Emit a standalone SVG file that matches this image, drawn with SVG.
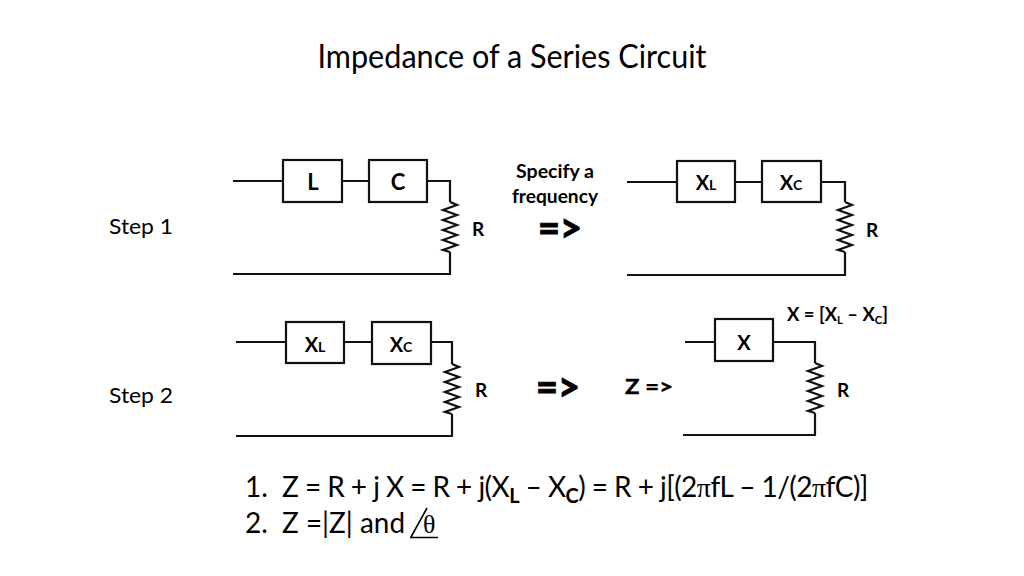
<svg xmlns="http://www.w3.org/2000/svg" width="1024" height="576" viewBox="0 0 1024 576">
<defs>
<style>
.w{fill:none;stroke:#111;stroke-width:2.2;stroke-linejoin:miter}
.box{fill:#fff;stroke:#111;stroke-width:2.2}
.t{font-family:Lato,"Open Sans","Liberation Sans",sans-serif;fill:#000}
.b{font-weight:bold}
.arr{stroke:#000;stroke-width:1;font-weight:bold}
.sym{font-family:"Liberation Serif","DejaVu Serif",serif}
</style>
<path id="res" d="M0,0 L7,3 L-7,8 L7,13 L-7,18 L7,23 L-7,28 L7,33 L-7,38 L7,43 L-7,48 L0,50" class="w"/>
</defs>
<rect width="1024" height="576" fill="#fff"/>

<text id="title" class="t" x="512" y="68" font-size="32" text-anchor="middle" textLength="389" lengthAdjust="spacingAndGlyphs">Impedance of a Series Circuit</text>

<g id="connectors">
<!-- circuit 1 -->
<path class="w" d="M233,181 H283 M342,181 H369 M427,181 H450 V202 M450,252 V274 H233"/>
<use href="#res" x="450" y="202"/>
<!-- circuit 2 -->
<path class="w" d="M627,182 H677 M735,182 H762 M821,182 H845 V202 M845,252 V275 H627"/>
<use href="#res" x="845" y="202"/>
<!-- circuit 3 -->
<path class="w" d="M236,342 H286 M344,342 H372 M431,342 H452 V364 M452,414 V436 H236"/>
<use href="#res" x="452" y="364"/>
<!-- circuit 4 -->
<path class="w" d="M685,342 H715 M773,342 H815 V363 M815,413 V435 H683"/>
<use href="#res" x="815" y="363"/>
</g>

<g id="step1-label"><text class="t" x="109" y="234" font-size="22" textLength="64" lengthAdjust="spacingAndGlyphs">Step 1</text></g>
<g id="step2-label"><text class="t" x="109" y="403" font-size="22" textLength="64" lengthAdjust="spacingAndGlyphs">Step 2</text></g>

<g id="node-L"><rect class="box" x="283" y="160" width="59" height="42"/><text class="t b" x="313" y="190" font-size="22" text-anchor="middle">L</text></g>
<g id="node-C"><rect class="box" x="369" y="160" width="58" height="42"/><text class="t b" x="398" y="190" font-size="22" text-anchor="middle">C</text></g>
<g id="node-R1"><text class="t b" x="472" y="236" font-size="19">R</text></g>

<g id="arrow1">
<text class="t b" x="555" y="178" font-size="19" text-anchor="middle" textLength="78" lengthAdjust="spacingAndGlyphs">Specify a</text>
<text class="t b" x="555" y="203" font-size="19" text-anchor="middle" textLength="86" lengthAdjust="spacingAndGlyphs">frequency</text>
<text class="t arr" x="560" y="242" font-size="40" text-anchor="middle" textLength="44" lengthAdjust="spacingAndGlyphs">=&gt;</text>
</g>

<g id="node-XL1"><rect class="box" x="677" y="161" width="58" height="41"/><text class="t b" x="706" y="190" text-anchor="middle"><tspan font-size="20">X</tspan><tspan font-size="14">L</tspan></text></g>
<g id="node-XC1"><rect class="box" x="762" y="161" width="59" height="41"/><text class="t b" x="791" y="190" text-anchor="middle"><tspan font-size="20">X</tspan><tspan font-size="14">C</tspan></text></g>
<g id="node-R2"><text class="t b" x="866" y="237" font-size="19">R</text></g>

<g id="node-XL2"><rect class="box" x="286" y="322" width="58" height="41"/><text class="t b" x="315" y="352" text-anchor="middle"><tspan font-size="20">X</tspan><tspan font-size="14">L</tspan></text></g>
<g id="node-XC2"><rect class="box" x="372" y="322" width="59" height="42"/><text class="t b" x="401" y="352" text-anchor="middle"><tspan font-size="20">X</tspan><tspan font-size="14">C</tspan></text></g>
<g id="node-R3"><text class="t b" x="475" y="397" font-size="19">R</text></g>

<g id="arrow2"><text class="t arr" x="558" y="401" font-size="40" text-anchor="middle" textLength="44" lengthAdjust="spacingAndGlyphs">=&gt;</text></g>

<g id="node-Z"><text class="t b" x="625" y="394" font-size="21" textLength="48" lengthAdjust="spacingAndGlyphs" stroke="#000" stroke-width="0.4">Z =&gt;</text></g>
<g id="node-X"><rect class="box" x="715" y="319" width="58" height="42"/><text class="t b" x="744" y="350" font-size="20" text-anchor="middle">X</text></g>
<g id="node-R4"><text class="t b" x="837" y="397" font-size="19">R</text></g>
<g id="x-def"><text class="t b" x="787" y="321" font-size="18" textLength="101" lengthAdjust="spacingAndGlyphs">X = [X<tspan font-size="11" dy="3">L</tspan><tspan dy="-3"> – X</tspan><tspan font-size="11" dy="3">C</tspan><tspan dy="-3">]</tspan></text></g>

<g id="equations">
<text class="t" x="245" y="497" font-size="28">1.</text>
<text class="t" x="282" y="497" font-size="28" letter-spacing="-0.55">Z = R + j X = R + j(X<tspan class="b" font-size="20" dy="6">L</tspan><tspan dy="-6"> – X</tspan><tspan class="b" font-size="20" dy="6">C</tspan><tspan dy="-6">) = R + j[(2</tspan><tspan class="sym">π</tspan>fL – 1/(2<tspan class="sym">π</tspan>fC)]</text>
<text class="t" x="245" y="533" font-size="28">2.</text>
<text class="t" x="282" y="533" font-size="28" textLength="123" lengthAdjust="spacingAndGlyphs">Z =|Z| and</text>
<path d="M411,537 L427,508 M410,537.5 H438" fill="none" stroke="#000" stroke-width="1.6"/>
<text class="sym" x="423" y="533" font-size="26" fill="#000">θ</text>
</g>
</svg>
